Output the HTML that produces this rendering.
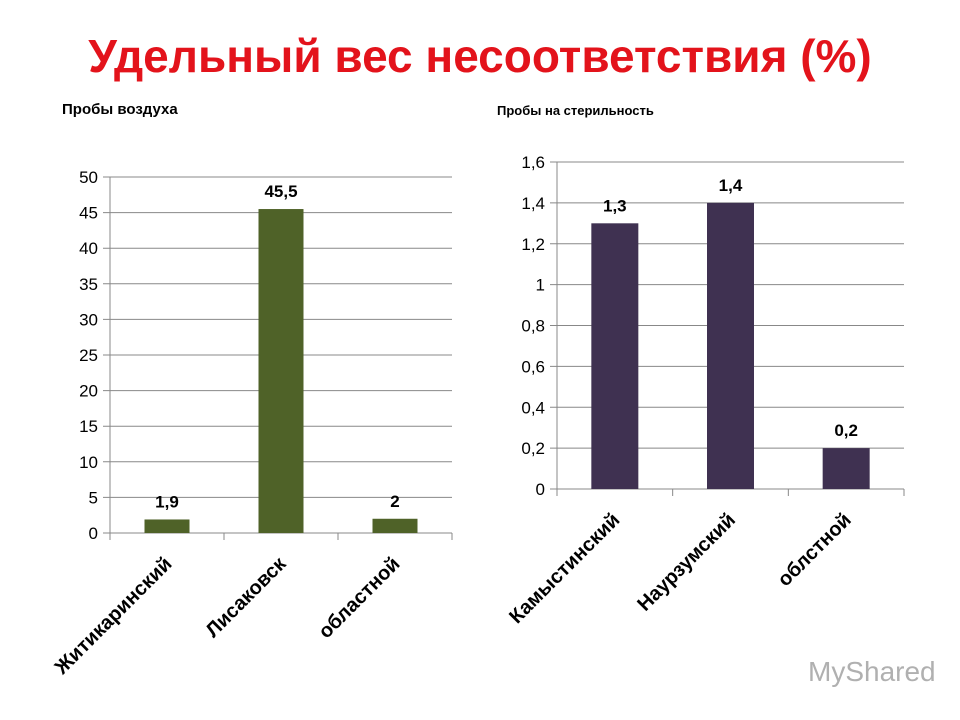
<!DOCTYPE html>
<html><head><meta charset="utf-8"><style>
body{margin:0;width:960px;height:720px;background:#fff;overflow:hidden;font-family:"Liberation Sans","DejaVu Sans",sans-serif;position:relative}
.t{position:absolute}
</style></head><body>
<div class="t" style="left:0;width:960px;top:29px;text-align:center;font-size:46px;font-weight:bold;color:#e3131b">Удельный вес несоответствия (%)</div>
<div class="t" style="left:62px;top:101px;font-size:15px;font-weight:bold">Пробы воздуха</div>
<div class="t" style="left:497px;top:103px;font-size:13px;font-weight:bold">Пробы  на стерильность</div>
<div class="t" style="left:808px;top:656px;font-size:28px;color:#b0b0b0">MyShared</div>
<svg id="c" width="960" height="720" style="position:absolute;left:0;top:0"></svg>
<script>
const catsA=["Житикаринский","Лисаковск","областной"];
const valsA=[1.9,45.5,2];
const labelsA=["1,9","45,5","2"];
const ticksA=[0,5,10,15,20,25,30,35,40,45,50];
const tickLabA=["0","5","10","15","20","25","30","35","40","45","50"];
const catsB=["Камыстинский","Наурзумский","облстной"];
const valsB=[1.3,1.4,0.2];
const labelsB=["1,3","1,4","0,2"];
const ticksB=[0,0.2,0.4,0.6,0.8,1,1.2,1.4,1.6];
const tickLabB=["0","0,2","0,4","0,6","0,8","1","1,2","1,4","1,6"];
const NS="http://www.w3.org/2000/svg";
const svg=document.getElementById('c');
function mk(t,a,txt){const e=document.createElementNS(NS,t);for(const k in a)e.setAttribute(k,a[k]);if(txt!=null)e.textContent=txt;svg.appendChild(e);return e;}
function chart(o){
 const y=v=>o.y0-(v-o.min)/(o.max-o.min)*(o.y0-o.y1);
 const cw=(o.x1-o.x0)/o.cats.length;
 o.ticks.forEach((t,i)=>{
  const g=mk('line',{x1:o.x0-7,x2:o.x1,y1:y(t),y2:y(t),stroke:'#888','stroke-width':1});
  
  const l=mk('text',{x:o.x0-12,y:y(t)+6,'text-anchor':'end','font-size':17,fill:'#000'},o.tickLab[i]);
  
 });
 const ax=mk('line',{x1:o.x0,x2:o.x0,y1:o.y1,y2:o.y0+7,stroke:'#888'});
 
 for(let i=0;i<=o.cats.length;i++){const tk=mk('line',{x1:o.x0+i*cw,x2:o.x0+i*cw,y1:o.y0,y2:o.y0+7,stroke:'#888'});
  }
 o.vals.forEach((v,i)=>{
  const cx=o.x0+cw*(i+0.5);
  const r=mk('rect',{x:cx-o.bw/2,y:y(v),width:o.bw,height:o.y0-y(v),fill:o.color});
  
  const t=mk('text',{x:cx,y:y(v)-12,'text-anchor':'middle','font-size':17,'font-weight':'bold'},o.labels[i]);
  
  const c=mk('text',{x:0,y:0,'text-anchor':'end','font-size':20,'font-weight':'bold',transform:`translate(${cx+6},${o.y0+32}) rotate(-45)`},o.cats[i]);
  
 });
}
chart({cats:catsA,vals:valsA,labels:labelsA,ticks:ticksA,tickLab:tickLabA,min:0,max:50,x0:110,x1:452,y0:533,y1:177,bw:45,color:'#4f6228'});
chart({cats:catsB,vals:valsB,labels:labelsB,ticks:ticksB,tickLab:tickLabB,min:0,max:1.6,x0:557,x1:904,y0:489,y1:162,bw:47,color:'#3f3151'});
</script>
</body></html>
